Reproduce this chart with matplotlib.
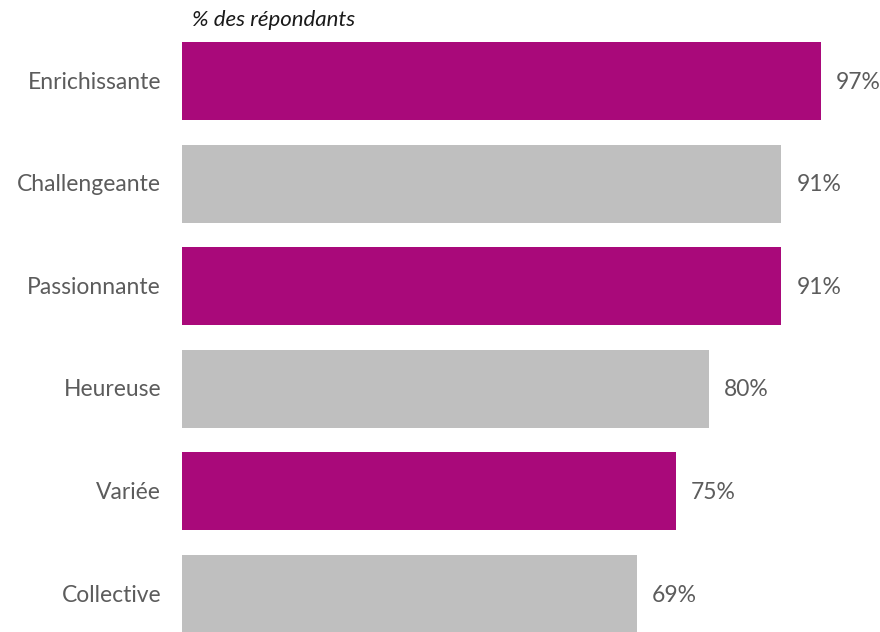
import matplotlib
matplotlib.use("Agg")
import matplotlib.pyplot as plt

categories = ["Enrichissante", "Challengeante", "Passionnante", "Heureuse", "Variée", "Collective"]
values = [97, 91, 91, 80, 75, 69]
colors = ["#A9097A", "#BFBFBF", "#A9097A", "#BFBFBF", "#A9097A", "#BFBFBF"]
value_labels = [f"{v}%" for v in values]
title = "% des répondants"

plt.rcParams['font.family'] = ['Lato', 'DejaVu Sans']

W, H = 880, 632
fig = plt.figure(figsize=(W / 100, H / 100), dpi=100)
ax = fig.add_axes([182 / W, 0, 1 - 182 / W, 1])

pitch = 102.6
px_per_unit = (821 - 182) / 97
ax.set_xlim(0, (W - 182) / px_per_unit)
top = -81 / pitch
bottom = (H - 81) / pitch
ax.set_ylim(bottom, top)

ypos = list(range(len(categories)))
ax.barh(ypos, values, height=0.76, color=colors)

for y, v, lab, cat in zip(ypos, values, value_labels, categories):
    ax.text(v + 15 / px_per_unit, y + 0.01, lab, va='center', ha='left', fontsize=16.5,
            color='#5c5c5c')
    ax.text(-21 / px_per_unit, y + 0.01, cat, va='center', ha='right', fontsize=16.5,
            color='#5c5c5c', clip_on=False)

fig.text(192 / W, 1 - 20 / H, title, ha='left', va='center', fontsize=16,
         style='italic', color='#1a1a1a')

ax.axis('off')
fig.savefig("out.png", dpi=100)
